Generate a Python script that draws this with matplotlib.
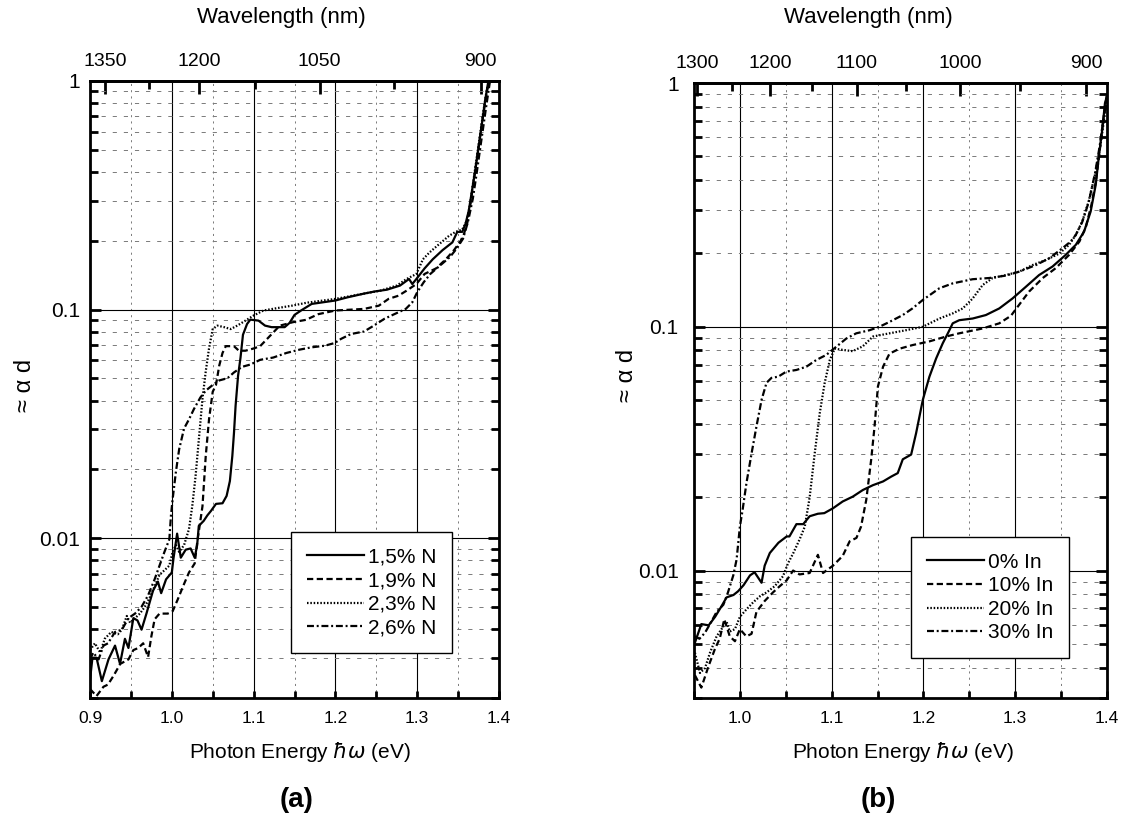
import numpy as np
import matplotlib
matplotlib.use("Agg")
import matplotlib.pyplot as plt
from matplotlib.ticker import FixedLocator, FixedFormatter, LogLocator, NullFormatter, MultipleLocator

plt.rcParams['font.family'] = ['Liberation Sans', 'DejaVu Sans']
plt.rcParams['lines.scale_dashes'] = False
plt.rcParams['mathtext.fontset'] = 'dejavusans'
NARROW = ['Liberation Sans', 'DejaVu Sans']

# ---------------- data : panel (a) ----------------
labels_a = ['1,5% N', '1,9% N', '2,3% N', '2,6% N']

e_a15 = [0.900, 0.903, 0.908, 0.9145, 0.9226, 0.9306, 0.9367, 0.9427, 0.947, 0.953, 0.958, 0.963, 0.969,
         0.977, 0.983, 0.987, 0.993, 1.000, 1.002, 1.0065, 1.011, 1.017, 1.023, 1.028, 1.031, 1.033, 1.039,
         1.0435, 1.048, 1.054, 1.062, 1.067, 1.071, 1.074, 1.076, 1.078, 1.081, 1.084, 1.087, 1.092, 1.096,
         1.106, 1.114, 1.122, 1.138, 1.144, 1.150, 1.158, 1.171, 1.200, 1.215, 1.235, 1.249, 1.263, 1.279,
         1.290, 1.294, 1.299, 1.309, 1.319, 1.331, 1.343, 1.349, 1.355, 1.359, 1.363, 1.367, 1.371, 1.375,
         1.379, 1.383, 1.387]
a_a15 = [0.0024, 0.0030, 0.0030, 0.00237, 0.00295, 0.00339, 0.00282, 0.00363, 0.00331, 0.00447, 0.00437,
         0.00398, 0.00468, 0.00589, 0.00646, 0.00575, 0.00661, 0.00708, 0.00813, 0.01047, 0.00822, 0.00891,
         0.00902, 0.00822, 0.00933, 0.01132, 0.01191, 0.01259, 0.01318, 0.01413, 0.01422, 0.01531, 0.01778,
         0.02291, 0.02884, 0.03802, 0.05129, 0.06166, 0.07762, 0.0865, 0.0904, 0.0895, 0.0851, 0.0838, 0.0838,
         0.0875, 0.0948, 0.0991, 0.1059, 0.1096, 0.1132, 0.1175, 0.1202, 0.1222, 0.1274, 0.1361, 0.1294,
         0.1361, 0.1514, 0.166, 0.182, 0.1968, 0.2188, 0.2188, 0.2366, 0.2704, 0.3311, 0.4074, 0.5129,
         0.6457, 0.8185, 1.0]

e_a19 = [0.900, 0.908, 0.9165, 0.922, 0.929, 0.937, 0.947, 0.953, 0.959, 0.965, 0.971, 0.975, 0.979, 0.985,
         0.995, 1.001, 1.007, 1.015, 1.021, 1.028, 1.031, 1.0375, 1.0415, 1.0455, 1.050, 1.054, 1.058, 1.062,
         1.066, 1.076, 1.082, 1.090, 1.100, 1.108, 1.116, 1.124, 1.132, 1.140, 1.148, 1.164, 1.179, 1.200,
         1.235, 1.253, 1.265, 1.277, 1.287, 1.299, 1.309, 1.323, 1.335, 1.345, 1.353, 1.357, 1.361, 1.365,
         1.369, 1.373, 1.377, 1.381, 1.385, 1.388]
a_a19 = [0.00219, 0.00204, 0.00224, 0.00229, 0.00251, 0.00282, 0.00295, 0.00324, 0.00331, 0.00347, 0.00302,
         0.00372, 0.00442, 0.00468, 0.00468, 0.00479, 0.00537, 0.00631, 0.00708, 0.00776, 0.00955, 0.0138,
         0.0229, 0.0331, 0.0437, 0.0468, 0.0569, 0.0646, 0.0692, 0.0692, 0.0661, 0.0661, 0.0676, 0.0692,
         0.0741, 0.0794, 0.0851, 0.0865, 0.0881, 0.0902, 0.0955, 0.0991, 0.1007, 0.104, 0.1114, 0.115, 0.121,
         0.1294, 0.1432, 0.1514, 0.166, 0.182, 0.1995, 0.2138, 0.2366, 0.288, 0.363, 0.457, 0.575, 0.724,
         0.891, 1.0]

e_a23 = [0.900, 0.906, 0.9125, 0.918, 0.926, 0.934, 0.939, 0.945, 0.949, 0.955, 0.961, 0.967, 0.973, 0.979,
         0.985, 0.991, 0.997, 1.001, 1.005, 1.009, 1.015, 1.021, 1.025, 1.029, 1.033, 1.0375, 1.0415, 1.0455,
         1.050, 1.0556, 1.064, 1.072, 1.080, 1.090, 1.100, 1.112, 1.128, 1.148, 1.165, 1.200, 1.235, 1.255,
         1.275, 1.287, 1.299, 1.307, 1.315, 1.327, 1.339, 1.347, 1.355, 1.361, 1.365, 1.369, 1.373, 1.377,
         1.381, 1.385, 1.388]
a_a23 = [0.00324, 0.00347, 0.00316, 0.00363, 0.00389, 0.0038, 0.00398, 0.00457, 0.00427, 0.00447, 0.00468,
         0.00501, 0.0055, 0.00617, 0.00692, 0.00724, 0.00759, 0.00871, 0.00933, 0.00871, 0.00933, 0.01096,
         0.0138, 0.0186, 0.0269, 0.0407, 0.0537, 0.0676, 0.0822, 0.0851, 0.0838, 0.0822, 0.0851, 0.0895,
         0.0942, 0.0991, 0.1014, 0.1042, 0.1072, 0.1114, 0.1175, 0.121, 0.1274, 0.1361, 0.1432, 0.166, 0.1778,
         0.1936, 0.2104, 0.2188, 0.2239, 0.2455, 0.295, 0.372, 0.468, 0.589, 0.741, 0.912, 1.0]

e_a26 = [0.900, 0.904, 0.9105, 0.9165, 0.922, 0.9306, 0.939, 0.947, 0.955, 0.963, 0.971, 0.979, 0.985, 0.991,
         0.997, 0.999, 1.001, 1.005, 1.009, 1.015, 1.021, 1.027, 1.035, 1.0415, 1.050, 1.058, 1.068, 1.076,
         1.086, 1.096, 1.108, 1.124, 1.140, 1.156, 1.171, 1.187, 1.199, 1.207, 1.219, 1.235, 1.247, 1.260,
         1.272, 1.286, 1.294, 1.300, 1.308, 1.316, 1.328, 1.340, 1.348, 1.356, 1.362, 1.368, 1.372, 1.376,
         1.380, 1.384, 1.389]
a_a26 = [0.00295, 0.00316, 0.00295, 0.00339, 0.00347, 0.00389, 0.00398, 0.00447, 0.00468, 0.00501, 0.00562,
         0.00661, 0.00759, 0.00871, 0.00989, 0.0126, 0.0148, 0.0195, 0.0245, 0.0302, 0.0331, 0.0367, 0.0413,
         0.0442, 0.0468, 0.049, 0.0501, 0.0531, 0.0562, 0.0575, 0.0603, 0.0617, 0.0646, 0.0668, 0.0684,
         0.0695, 0.0714, 0.0745, 0.0782, 0.0802, 0.0851, 0.0912, 0.0955, 0.1007, 0.1076, 0.1191, 0.1318,
         0.1432, 0.156, 0.1698, 0.1845, 0.2042, 0.2415, 0.3055, 0.38, 0.479, 0.603, 0.759, 1.0]

# ---------------- data : panel (b) ----------------
labels_b = ['0% In', '10% In', '20% In', '30% In']

e_b0 = [0.951, 0.958, 0.966, 0.973, 0.980, 0.9855, 0.993, 0.998, 1.004, 1.011, 1.016, 1.0236, 1.027, 1.0326,
        1.042, 1.051, 1.054, 1.0616, 1.069, 1.076, 1.085, 1.092, 1.1014, 1.112, 1.123, 1.134, 1.145, 1.156,
        1.165, 1.172, 1.1775, 1.1866, 1.192, 1.1993, 1.2065, 1.2138, 1.221, 1.2275, 1.2319, 1.239, 1.2536,
        1.268, 1.2826, 1.297, 1.3116, 1.326, 1.3406, 1.355, 1.366, 1.375, 1.3822, 1.3877, 1.3913, 1.395,
        1.3978, 1.400]
a_b0 = [0.00506, 0.00603, 0.00596, 0.00646, 0.00714, 0.00776, 0.00794, 0.00822, 0.00871, 0.00955, 0.00984,
        0.00891, 0.01047, 0.0118, 0.013, 0.0138, 0.0138, 0.0155, 0.0155, 0.0167, 0.0171, 0.0172, 0.018,
        0.0192, 0.0201, 0.0214, 0.0224, 0.0232, 0.0243, 0.0251, 0.0286, 0.0299, 0.0366, 0.0501, 0.0624,
        0.0741, 0.0855, 0.0955, 0.1033, 0.1064, 0.1081, 0.1117, 0.1189, 0.1306, 0.1459, 0.163, 0.1766,
        0.1972, 0.2168, 0.2455, 0.2972, 0.382, 0.507, 0.653, 0.828, 0.87]

e_b10 = [0.951, 0.958, 0.966, 0.973, 0.978, 0.983, 0.989, 0.9946, 1.000, 1.007, 1.0127, 1.018, 1.027, 1.036,
         1.0435, 1.051, 1.058, 1.065, 1.076, 1.085, 1.0906, 1.1014, 1.112, 1.1196, 1.127, 1.132, 1.1377,
         1.143, 1.1467, 1.1504, 1.156, 1.163, 1.174, 1.188, 1.2065, 1.2246, 1.239, 1.2645, 1.2826, 1.2953,
         1.304, 1.315, 1.330, 1.344, 1.3587, 1.370, 1.377, 1.383, 1.388, 1.392, 1.395, 1.398, 1.400]
a_b10 = [0.00372, 0.00331, 0.00407, 0.00479, 0.00525, 0.00631, 0.00537, 0.00513, 0.00575, 0.00537, 0.0055,
         0.00676, 0.0075, 0.00813, 0.00863, 0.00912, 0.0100, 0.00964, 0.00977, 0.0116, 0.00977, 0.01047,
         0.01148, 0.01318, 0.01361, 0.01514, 0.0195, 0.0284, 0.0389, 0.0569, 0.0686, 0.0776, 0.0813, 0.0841,
         0.0871, 0.0912, 0.094, 0.0984, 0.1033, 0.1109, 0.1227, 0.1393, 0.1585, 0.1738, 0.1972, 0.2239,
         0.257, 0.316, 0.398, 0.525, 0.661, 0.813, 0.912]

e_b20 = [0.951, 0.9565, 0.962, 0.9674, 0.9746, 0.980, 0.9855, 0.989, 0.9946, 1.000, 1.007, 1.0145, 1.022,
         1.029, 1.038, 1.047, 1.0525, 1.058, 1.065, 1.0707, 1.076, 1.0815, 1.087, 1.0924, 1.098, 1.1033,
         1.112, 1.123, 1.134, 1.145, 1.163, 1.181, 1.1993, 1.2174, 1.232, 1.2428, 1.2536, 1.2645, 1.2754,
         1.290, 1.3043, 1.3188, 1.3333, 1.3478, 1.3587, 1.366, 1.373, 1.380, 1.3877, 1.393, 1.397, 1.400]
a_b20 = [0.0046, 0.0038, 0.00398, 0.0046, 0.00537, 0.00575, 0.00617, 0.00562, 0.00575, 0.00646, 0.00692,
         0.00741, 0.00785, 0.00813, 0.00863, 0.00948, 0.01072, 0.01175, 0.0134, 0.01514, 0.01995, 0.0302,
         0.0442, 0.0589, 0.0731, 0.0813, 0.0804, 0.0794, 0.0832, 0.0912, 0.094, 0.0968, 0.1000, 0.1081,
         0.1135, 0.1189, 0.1306, 0.1483, 0.1585, 0.163, 0.1683, 0.1791, 0.1879, 0.1995, 0.2168, 0.2382,
         0.2704, 0.3266, 0.4335, 0.5585, 0.7178, 0.85]

e_b30 = [0.951, 0.956, 0.962, 0.9674, 0.9746, 0.982, 0.987, 0.9928, 0.9964, 1.000, 1.003, 1.0072, 1.0127,
         1.018, 1.0236, 1.029, 1.0344, 1.0417, 1.0507, 1.0616, 1.0725, 1.0833, 1.094, 1.105, 1.116, 1.1268,
         1.1413, 1.152, 1.163, 1.1775, 1.188, 1.1993, 1.2174, 1.232, 1.2536, 1.2717, 1.290, 1.3043, 1.3225,
         1.337, 1.3514, 1.3605, 1.366, 1.373, 1.380, 1.387, 1.392, 1.396, 1.400]
a_b30 = [0.00537, 0.00525, 0.00556, 0.00603, 0.00676, 0.00724, 0.00813, 0.00955, 0.01109, 0.01514, 0.01778,
         0.02291, 0.0302, 0.0389, 0.0501, 0.0589, 0.0617, 0.0624, 0.0655, 0.0665, 0.0686, 0.0731, 0.0766,
         0.0828, 0.0895, 0.094, 0.0968, 0.1000, 0.1047, 0.1117, 0.1189, 0.1288, 0.1439, 0.1507, 0.1567,
         0.1585, 0.1622, 0.1683, 0.1791, 0.191, 0.2099, 0.2239, 0.2382, 0.269, 0.324, 0.427, 0.55, 0.708, 0.85]

# axis tick values
energy_ticks = [0.9, 1.0, 1.1, 1.2, 1.3, 1.4]
wl_major_a = [1350, 1200, 1050, 900]
wl_minor_a = [1275, 1125, 975]
wl_major_b = [1300, 1200, 1100, 1000, 900]
wl_minor_b = [1250, 1150, 1050, 950]
y_ticks = [0.01, 0.1, 1]
y_ticklabels = ['0.01', '0.1', '1']

HC = 1239.84  # eV nm

styles = [dict(ls='-'),
          dict(ls=(0, (4.5, 2.5))),
          dict(ls=(0, (1.1, 1.3))),
          dict(ls=(0, (5, 2, 1.4, 2)))]


def e2l(x):
    x = np.asarray(x, dtype=float)
    with np.errstate(divide='ignore', invalid='ignore'):
        return HC / x


fig = plt.figure(figsize=(11.23, 8.21), dpi=100)
W, H = 1123.0, 821.0
axA = fig.add_axes([90 / W, 123 / H, 409 / W, 617 / H])
axB = fig.add_axes([694 / W, 123 / H, 413 / W, 615 / H])


def style_axes(ax, xlim, ylim, wl_major, wl_minor, ypad):
    ax.set_yscale('log')
    ax.set_xlim(*xlim)
    ax.set_ylim(*ylim)
    ticks = [t for t in energy_ticks if xlim[0] - 1e-9 <= t <= xlim[1] + 1e-9]
    ax.xaxis.set_major_locator(FixedLocator(ticks))
    ax.xaxis.set_major_formatter(FixedFormatter(['%.1f' % t for t in ticks]))
    ax.xaxis.set_minor_locator(MultipleLocator(0.05))
    ax.yaxis.set_major_locator(FixedLocator(y_ticks))
    ax.yaxis.set_major_formatter(FixedFormatter(y_ticklabels))
    ax.yaxis.set_minor_locator(LogLocator(base=10, subs=np.arange(2, 10)))
    ax.yaxis.set_minor_formatter(NullFormatter())
    ax.tick_params(axis='x', which='both', direction='in', top=False, bottom=True,
                   length=5, width=2, pad=9, labelsize=12.5)
    ax.tick_params(axis='y', which='major', direction='in', left=True, right=True,
                   length=8, width=2, pad=ypad, labelsize=15)
    ax.tick_params(axis='y', which='minor', direction='in', left=True, right=True,
                   length=6, width=2)
    for sp in ax.spines.values():
        sp.set_linewidth(2)
    ax.grid(which='major', color='black', lw=0.8, ls='-')
    ax.grid(which='minor', axis='y', color='#7a7a7a', lw=0.7, ls=(0, (3, 5)))
    ax.grid(which='minor', axis='x', color='#7a7a7a', lw=0.7, ls=(0, (1.5, 3)))
    sec = ax.secondary_xaxis('top', functions=(e2l, e2l))
    sec.xaxis.set_major_locator(FixedLocator(wl_major))
    sec.xaxis.set_minor_locator(FixedLocator(wl_minor))
    sec.tick_params(which='major', direction='in', length=9, width=2, labelsize=14, pad=8)
    sec.tick_params(which='minor', direction='in', length=6, width=2)
    sec.spines['top'].set_linewidth(2)
    return sec


style_axes(axA, (0.9, 1.4), (0.002, 1), wl_major_a, wl_minor_a, 7)
style_axes(axB, (0.95, 1.4), (0.003, 1), wl_major_b, wl_minor_b, 11)

for e, a, st, lab in zip([e_a15, e_a19, e_a23, e_a26], [a_a15, a_a19, a_a23, a_a26], styles, labels_a):
    axA.plot(e, a, color='black', lw=1.6, label=lab, **st)
for e, a, st, lab in zip([e_b0, e_b10, e_b20, e_b30], [a_b0, a_b10, a_b20, a_b30], styles, labels_b):
    axB.plot(e, a, color='black', lw=1.6, label=lab, **st)

legkw = dict(loc='upper left', bbox_transform=fig.transFigure, borderaxespad=0, fancybox=False,
             framealpha=1, edgecolor='black', fontsize=15, handlelength=2.75, handletextpad=0.2,
             labelspacing=0.22, borderpad=0.75)
legA = axA.legend(bbox_to_anchor=(291 / W, 1 - 532 / H), **legkw)
legB = axB.legend(bbox_to_anchor=(911 / W, 1 - 537 / H), **legkw)
for leg in (legA, legB):
    leg.get_frame().set_linewidth(1.0)

# texts
fig.text(281 / W, 1 - 18 / H, 'Wavelength (nm)', ha='center', va='center', fontsize=16)
fig.text(868 / W, 1 - 18 / H, 'Wavelength (nm)', ha='center', va='center', fontsize=16)
fig.text(300 / W, 1 - 752 / H, r'Photon Energy $\hbar\omega$ (eV)', ha='center', va='center',
         fontsize=15, family=NARROW)
fig.text(903 / W, 1 - 752 / H, r'Photon Energy $\hbar\omega$ (eV)', ha='center', va='center',
         fontsize=15, family=NARROW)
fig.text(297 / W, 1 - 800 / H, '(a)', ha='center', va='center', fontsize=20, fontweight='bold',
         family=NARROW)
fig.text(878 / W, 1 - 800 / H, '(b)', ha='center', va='center', fontsize=20, fontweight='bold',
         family=NARROW)
fig.text(25 / W, 1 - 385 / H, '≈ α d', rotation=90, ha='center', va='center', fontsize=17)
fig.text(627 / W, 1 - 375 / H, '≈ α d', rotation=90, ha='center', va='center', fontsize=17)

fig.savefig('out.png', dpi=100)
